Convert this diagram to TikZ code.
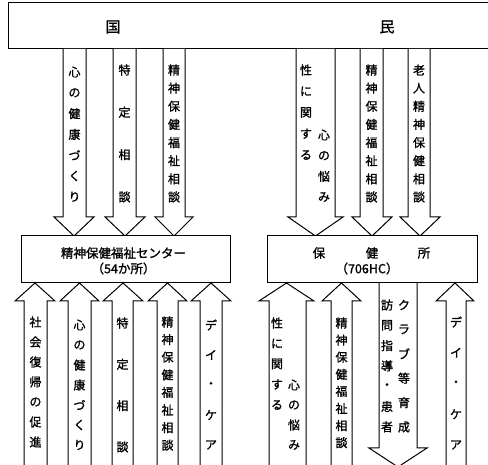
\documentclass[tikz,border=0pt]{standalone}
\usepackage{fontspec}
\newfontfamily\jp[FakeBold=1.2]{Noto Sans CJK JP}
\tikzset{
  blk/.style={draw=black, line width=1pt, fill=white, line join=miter},
  boxst/.style={draw=black, line width=1pt, fill=white, inner sep=0pt},
  vch/.style={inner sep=0pt, font=\jp\fontsize{12}{12}\selectfont},
  lbl/.style={inner sep=0pt, font=\jp\fontsize{12.5}{14}\selectfont},
  big/.style={inner sep=0pt, font=\jp\fontsize{15}{15}\selectfont}
}
% block arrow: shaft xl, xr; head hl, hr; y of open end, y of head base, y of tip
\newcommand\blockarr[7]{%
  \draw[blk] (#1,#5) -- (#1,#6) -- (#3,#6) -- ({(#3+#4)/2},#7) -- (#4,#6) -- (#2,#6) -- (#2,#5);}
% vertical column of characters: name, x, y of first char, step, list
\newcommand\vcol[5]{%
  \foreach \ch [count=\i from 0] in {#5} \node[vch] (#1-\i) at (#2,{#3+\i*#4}) {\ch};}
\begin{document}
\begin{tikzpicture}[x=1pt,y=-1pt]
\useasboundingbox (0,0) rectangle (488,465);
% top bar
\draw[line width=1pt] (492,3) -- (8,3) -- (8,49) -- (492,49);
\node[big] (kuni) at (113,27) {国};
\node[big] (tami) at (387,27) {民};
% upper arrows
\blockarr{63}{86}{54}{94}{49}{217}{236}
\blockarr{113}{136}{105}{145}{49}{217}{236}
\blockarr{163}{185}{155}{193}{49}{217}{236}
\blockarr{296}{335}{288}{343}{49}{217}{236}
\blockarr{360}{383}{352}{392}{49}{217}{236}
\blockarr{408}{430}{400}{440}{49}{217}{236}
% lower arrows (up)
\blockarr{24}{47}{15}{55}{472}{301}{283}
\blockarr{68}{91}{60}{99}{472}{301}{283}
\blockarr{112}{133}{103}{143}{472}{301}{283}
\blockarr{157}{178}{148}{187}{472}{301}{283}
\blockarr{200}{222}{191}{231}{472}{301}{283}
\blockarr{269}{306}{259}{314}{472}{301}{283}
\blockarr{331}{352}{322}{361}{472}{301}{283}
\blockarr{446}{466}{436}{474}{472}{301}{283}
% lower arrow (down)
\blockarr{379}{417}{369}{427}{283}{448}{467}
% boxes
\node[boxst, minimum width=209pt, minimum height=47pt] (center) at (125.5,259.5) {};
\node[boxst, minimum width=210pt, minimum height=47pt] (hc) at (372,259.5) {};
\node[lbl] (centerA) at (123.5,253) {精神保健福祉センター};
\node[lbl] (centerB) at (123.5,268.5) {（54か所）};
\node[lbl] (hcA) at (319,253) {保};
\node[lbl] (hcB) at (372,253) {健};
\node[lbl] (hcC) at (424,253) {所};
\node[lbl] (hcD) at (367,268.5) {（706HC）};
% upper texts
\vcol{u1}{74.5}{72}{20.8}{心,の,健,康,づ,く,り}
\vcol{u2}{124.5}{70}{42.3}{特,定,相,談}
\vcol{u3}{174}{70}{18.14}{精,神,保,健,福,祉,相,談}
\vcol{u4a}{306}{70}{21.25}{性,に,関,す,る}
\vcol{u4b}{324}{135}{20.7}{心,の,悩,み}
\vcol{u5}{371.5}{70}{18.14}{精,神,保,健,福,祉,相,談}
\vcol{u6}{419}{70}{18.14}{老,人,精,神,保,健,相,談}
% lower texts
\vcol{l1}{35.5}{322}{20}{社,会,復,帰,の,促,進}
\vcol{l2}{79.5}{325}{20}{心,の,健,康,づ,く,り}
\vcol{l3}{122.5}{323}{41.3}{特,定,相,談}
\vcol{l4}{167.5}{322}{17.6}{精,神,保,健,福,祉,相,談}
\vcol{l5}{211}{325}{30}{デ,イ,・,ケ,ア}
\vcol{l6a}{277}{323}{20.5}{性,に,関,す,る}
\vcol{l6b}{294}{385}{20}{心,の,悩,み}
\vcol{l7}{341.5}{323}{17.1}{精,神,保,健,福,祉,相,談}
\vcol{l8a}{387}{305}{20.3}{訪,問,指,導,・,患,者}
\vcol{l8b}{404}{305}{24.4}{ク,ラ,ブ,等,育,成}
\vcol{l9}{456}{322}{30.75}{デ,イ,・,ケ,ア}
\end{tikzpicture}
\end{document}
